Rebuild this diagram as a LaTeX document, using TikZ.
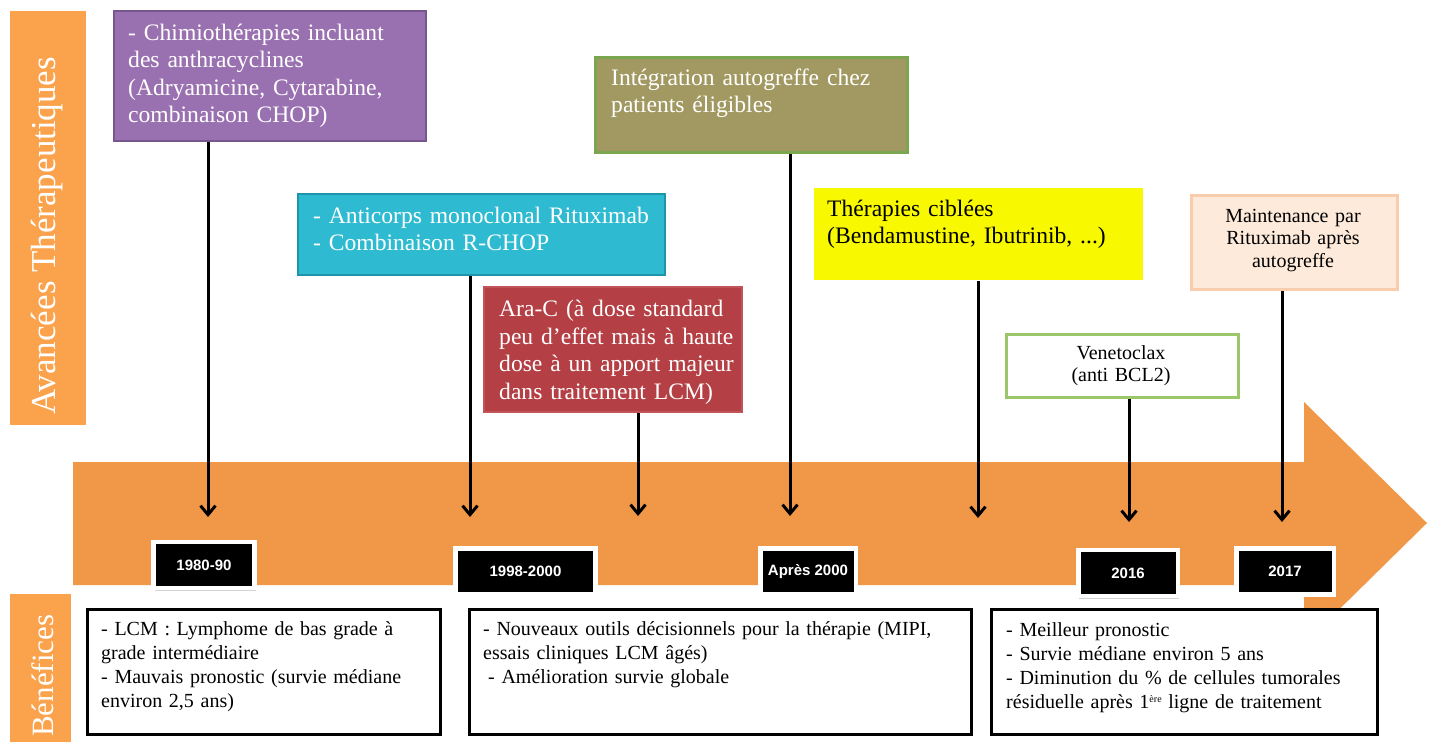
\documentclass[tikz,border=0pt]{standalone}
\usepackage{fontspec}
\setmainfont{Liberation Serif}
\newfontfamily\anneefont{Liberation Sans}
\usetikzlibrary{arrows.meta,shadows}

\definecolor{flecheorange}{RGB}{241,151,72}
\definecolor{titreorange}{RGB}{250,162,76}
\definecolor{chimiofond}{RGB}{154,113,176}
\definecolor{chimiobord}{RGB}{120,88,140}
\definecolor{ritufond}{RGB}{46,187,209}
\definecolor{ritubord}{RGB}{30,150,170}
\definecolor{aracfond}{RGB}{180,63,68}
\definecolor{aracbord}{RGB}{192,84,88}
\definecolor{greffefond}{RGB}{162,153,98}
\definecolor{greffebord}{RGB}{122,166,80}
\definecolor{cibleefond}{RGB}{248,248,0}
\definecolor{maintfond}{RGB}{253,234,218}
\definecolor{maintbord}{RGB}{249,204,172}
\definecolor{venetobord}{RGB}{156,198,106}

\begin{document}
\begin{tikzpicture}[x=1pt,y=-1pt,
    cadre/.style={anchor=north west,inner sep=0pt,line width=2pt},
    txt/.style={anchor=base west,inner sep=0pt,align=left,text width=560pt},
    txtc/.style={anchor=base,inner sep=0pt,align=center,text width=220pt},
    grand/.style={font=\fontsize{23.6}{27.5}\selectfont},
    petit/.style={font=\fontsize{20}{22.5}\selectfont},
    moyen/.style={font=\fontsize{20}{24}\selectfont},
    annee/.style={fill=black,draw=white,line width=4.5pt,minimum height=46pt,
      inner sep=0pt,text=white,font=\anneefont\bfseries\fontsize{15}{15}\selectfont,
      drop shadow={shadow xshift=1pt,shadow yshift=-2.5pt,opacity=.35}},
    fleche/.style={line width=3pt,-{Straight Barb[length=9pt,width=15pt]}},
    bilan/.style={anchor=north west,draw=black,fill=white,line width=3pt,
      inner sep=0pt,minimum height=125pt}]
  \useasboundingbox (0,0) rectangle (1429,742);

  % fleche du temps
  \fill[flecheorange] (73,462) -- (1304,462) -- (1304,402) -- (1427,523)
    -- (1304,644) -- (1304,585) -- (73,585) -- cycle;

  % titres a gauche
  \fill[titreorange] (10,11) rectangle (86,425);
  \node[rotate=90,anchor=base west,inner sep=0pt,text=white,
    font=\fontsize{35}{35}\selectfont] (avancees) at (55,415) {Avancées Thérapeutiques};
  \fill[titreorange] (10,594) rectangle (71,742);
  \node[rotate=90,anchor=base west,inner sep=0pt,text=white,
    font=\fontsize{31}{31}\selectfont] (benefices) at (53,737) {Bénéfices};

  % avancees therapeutiques
  \node[cadre,fill=chimiofond,draw=chimiobord,minimum width=312pt,minimum height=130pt] (chimio) at (113,10) {};
  \node[txt,grand,text=white] (chimio-t) at (128,40)
    {- Chimiothérapies incluant\\des anthracyclines\\(Adryamicine, Cytarabine,\\combinaison CHOP)};

  \node[cadre,fill=ritufond,draw=ritubord,minimum width=367pt,minimum height=81pt] (ritux) at (297,193) {};
  \node[txt,grand,text=white] (ritux-t) at (313,223)
    {- Anticorps monoclonal Rituximab\\- Combinaison R-CHOP};

  \node[cadre,fill=aracfond,draw=aracbord,minimum width=258pt,minimum height=125pt] (arac) at (483,286) {};
  \node[txt,grand,text=white] (arac-t) at (499,316.5)
    {Ara-C (à dose standard\\peu d’effet mais à haute\\dose à un apport majeur\\dans traitement LCM)};

  \node[cadre,fill=greffefond,draw=greffebord,line width=3pt,minimum width=312pt,minimum height=95pt] (greffe) at (594,56) {};
  \node[txt,grand,text=white] (greffe-t) at (611,85)
    {Intégration autogreffe chez\\patients éligibles};

  \node[cadre,fill=cibleefond,minimum width=329pt,minimum height=92pt] (ciblees) at (813,187) {};
  \node[txt,grand] (ciblees-t) at (827,216)
    {Thérapies ciblées\\(Bendamustine, Ibutrinib, ...)};

  \node[cadre,fill=white,draw=venetobord,line width=3pt,minimum width=232pt,minimum height=63pt] (veneto) at (1005,333) {};
  \node[txtc,petit] (veneto-t) at (1121,359) {Venetoclax\\(anti BCL2)};

  \node[cadre,fill=maintfond,draw=maintbord,line width=3pt,minimum width=206pt,minimum height=94pt] (maint) at (1190,194) {};
  \node[txtc,petit] (maint-t) at (1293,222) {Maintenance par\\Rituximab après\\autogreffe};

  % fleches vers la frise
  \coordinate (c1) at (208,517);
  \coordinate (c2) at (470,517);
  \coordinate (c3) at (638,516);
  \coordinate (c4) at (790,516);
  \coordinate (c5) at (978,518);
  \coordinate (c6) at (1129,522);
  \coordinate (c7) at (1282,522);
  \draw[fleche] (chimio.south -| c1) -- (c1);
  \draw[fleche] (ritux.south -| c2) -- (c2);
  \draw[fleche] (arac.south -| c3) -- (c3);
  \draw[fleche] (greffe.south -| c4) -- (c4);
  \draw[fleche] (ciblees.south -| c5) -- (c5);
  \draw[fleche] (veneto.south -| c6) -- (c6);
  \draw[fleche] (maint.south -| c7) -- (c7);

  % dates
  \node[annee,minimum width=101pt] (a1980) at (204,565) {1980-90};
  \node[annee,minimum width=140pt] (a1998) at (525.5,571.5) {1998-2000};
  \node[annee,minimum width=95.5pt] (a2000) at (808,571.5) {Après 2000};
  \node[annee,minimum width=99.5pt] (a2016) at (1128,573) {2016};
  \node[annee,minimum width=97.5pt] (a2017) at (1285,571.5) {2017};

  % benefices
  \node[bilan,minimum width=353pt] (bilan1) at (86,608) {};
  \node[txt,moyen] (bilan1-t) at (101,635)
    {- LCM : Lymphome de bas grade à\\grade intermédiaire\\- Mauvais pronostic (survie médiane\\environ 2,5 ans)};
  \node[bilan,minimum width=502pt] (bilan2) at (468,608) {};
  \node[txt,moyen] (bilan2-t) at (483,635.5)
    {- Nouveaux outils décisionnels pour la thérapie (MIPI,\\essais cliniques LCM âgés)\\\hspace*{5pt}- Amélioration survie globale};
  \node[bilan,minimum width=386pt] (bilan3) at (990,608) {};
  \node[txt,moyen] (bilan3-t) at (1006,636)
    {- Meilleur pronostic\\- Survie médiane environ 5 ans\\- Diminution du \% de cellules tumorales\\résiduelle après 1\raisebox{6pt}{\fontsize{10}{10}\selectfont ère} ligne de traitement};
\end{tikzpicture}
\end{document}
